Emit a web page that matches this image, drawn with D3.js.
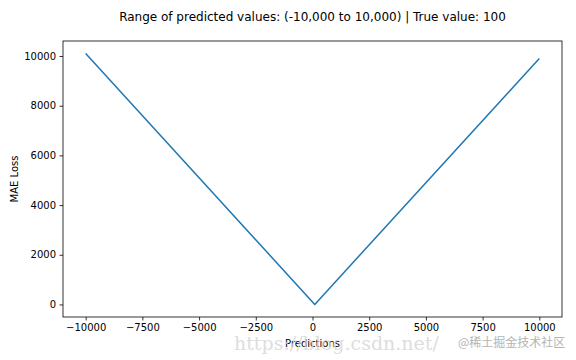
<!DOCTYPE html>
<html>
<head>
<meta charset="utf-8">
<script src="https://cdn.jsdelivr.net/npm/d3@7"></script>
<style>
  html, body { margin: 0; padding: 0; background: #fff; }
  svg { display: block; font-family: "DejaVu Sans", sans-serif; }
</style>
</head>
<body>
<svg id="chart" width="576" height="360"></svg>
<script>
const predictions = [-10000, 100, 10000];
const maeLoss = [10100, 0, 9900];
const xTicks = [-10000, -7500, -5000, -2500, 0, 2500, 5000, 7500, 10000];
const yTicks = [0, 2000, 4000, 6000, 8000, 10000];
const titleText = "Range of predicted values: (-10,000 to 10,000) | True value: 100";
const xLabel = "Predictions";
const yLabel = "MAE Loss";

const svg = d3.select("#chart");
const W = 576, H = 360;
const m = { left: 63, right: 562, top: 41, bottom: 317 };

svg.append("rect").attr("width", W).attr("height", H).attr("fill", "#fff");

const x = d3.scaleLinear().domain([-11000, 11000]).range([m.left, m.right]);
const y = d3.scaleLinear().domain([-505, 10605]).range([m.bottom, m.top]);

const fmt = d => (d < 0 ? "\u2212" + Math.abs(d) : String(d));

const xAxis = svg.append("g")
  .attr("transform", `translate(0,${m.bottom})`)
  .call(d3.axisBottom(x).tickValues(xTicks).tickFormat(fmt).tickSizeOuter(0).tickSize(3.5).tickPadding(3.5));
const yAxis = svg.append("g")
  .attr("transform", `translate(${m.left},0)`)
  .call(d3.axisLeft(y).tickValues(yTicks).tickFormat(fmt).tickSizeOuter(0).tickSize(3.5).tickPadding(3.5));

[xAxis, yAxis].forEach(g => {
  g.select(".domain").remove();
  g.selectAll("line").attr("stroke", "#000").attr("stroke-width", 0.8);
  g.selectAll("text").attr("fill", "#000").style("font-size", "10px").style("font-family", "DejaVu Sans, sans-serif");
});

// line
const line = d3.line().x((d, i) => x(predictions[i])).y(d => y(d));
svg.append("path")
  .datum(maeLoss)
  .attr("d", line)
  .attr("fill", "none")
  .attr("stroke", "#1f77b4")
  .attr("stroke-width", 1.5)
  .attr("stroke-linejoin", "round");

// frame
svg.append("rect")
  .attr("x", m.left).attr("y", m.top)
  .attr("width", m.right - m.left).attr("height", m.bottom - m.top)
  .attr("fill", "none").attr("stroke", "#000").attr("stroke-width", 0.8);

// title
svg.append("text")
  .attr("x", (m.left + m.right) / 2).attr("y", 21)
  .attr("text-anchor", "middle")
  .style("font-size", "12px")
  .text(titleText);

// axis labels
svg.append("text")
  .attr("x", (m.left + m.right) / 2).attr("y", 347)
  .attr("text-anchor", "middle")
  .style("font-size", "10px")
  .text(xLabel);
svg.append("text")
  .attr("transform", `translate(18,${(m.top + m.bottom) / 2}) rotate(-90)`)
  .attr("text-anchor", "middle")
  .style("font-size", "10px")
  .text(yLabel);

// watermarks
svg.append("text")
  .attr("x", 234).attr("y", 350)
  .style("font-family", "DejaVu Serif, Liberation Serif, serif")
  .style("font-size", "19px")
  .attr("fill", "#d6d6d6")
  .attr("opacity", 0.8)
  .text("https://blog.csdn.net/");
svg.append("text")
  .attr("x", 458).attr("y", 347)
  .style("font-family", "Noto Sans CJK SC, sans-serif")
  .style("font-size", "12px")
  .attr("fill", "#b4b4b4")
  .text("@稀土掘金技术社区");
</script>
</body>
</html>
